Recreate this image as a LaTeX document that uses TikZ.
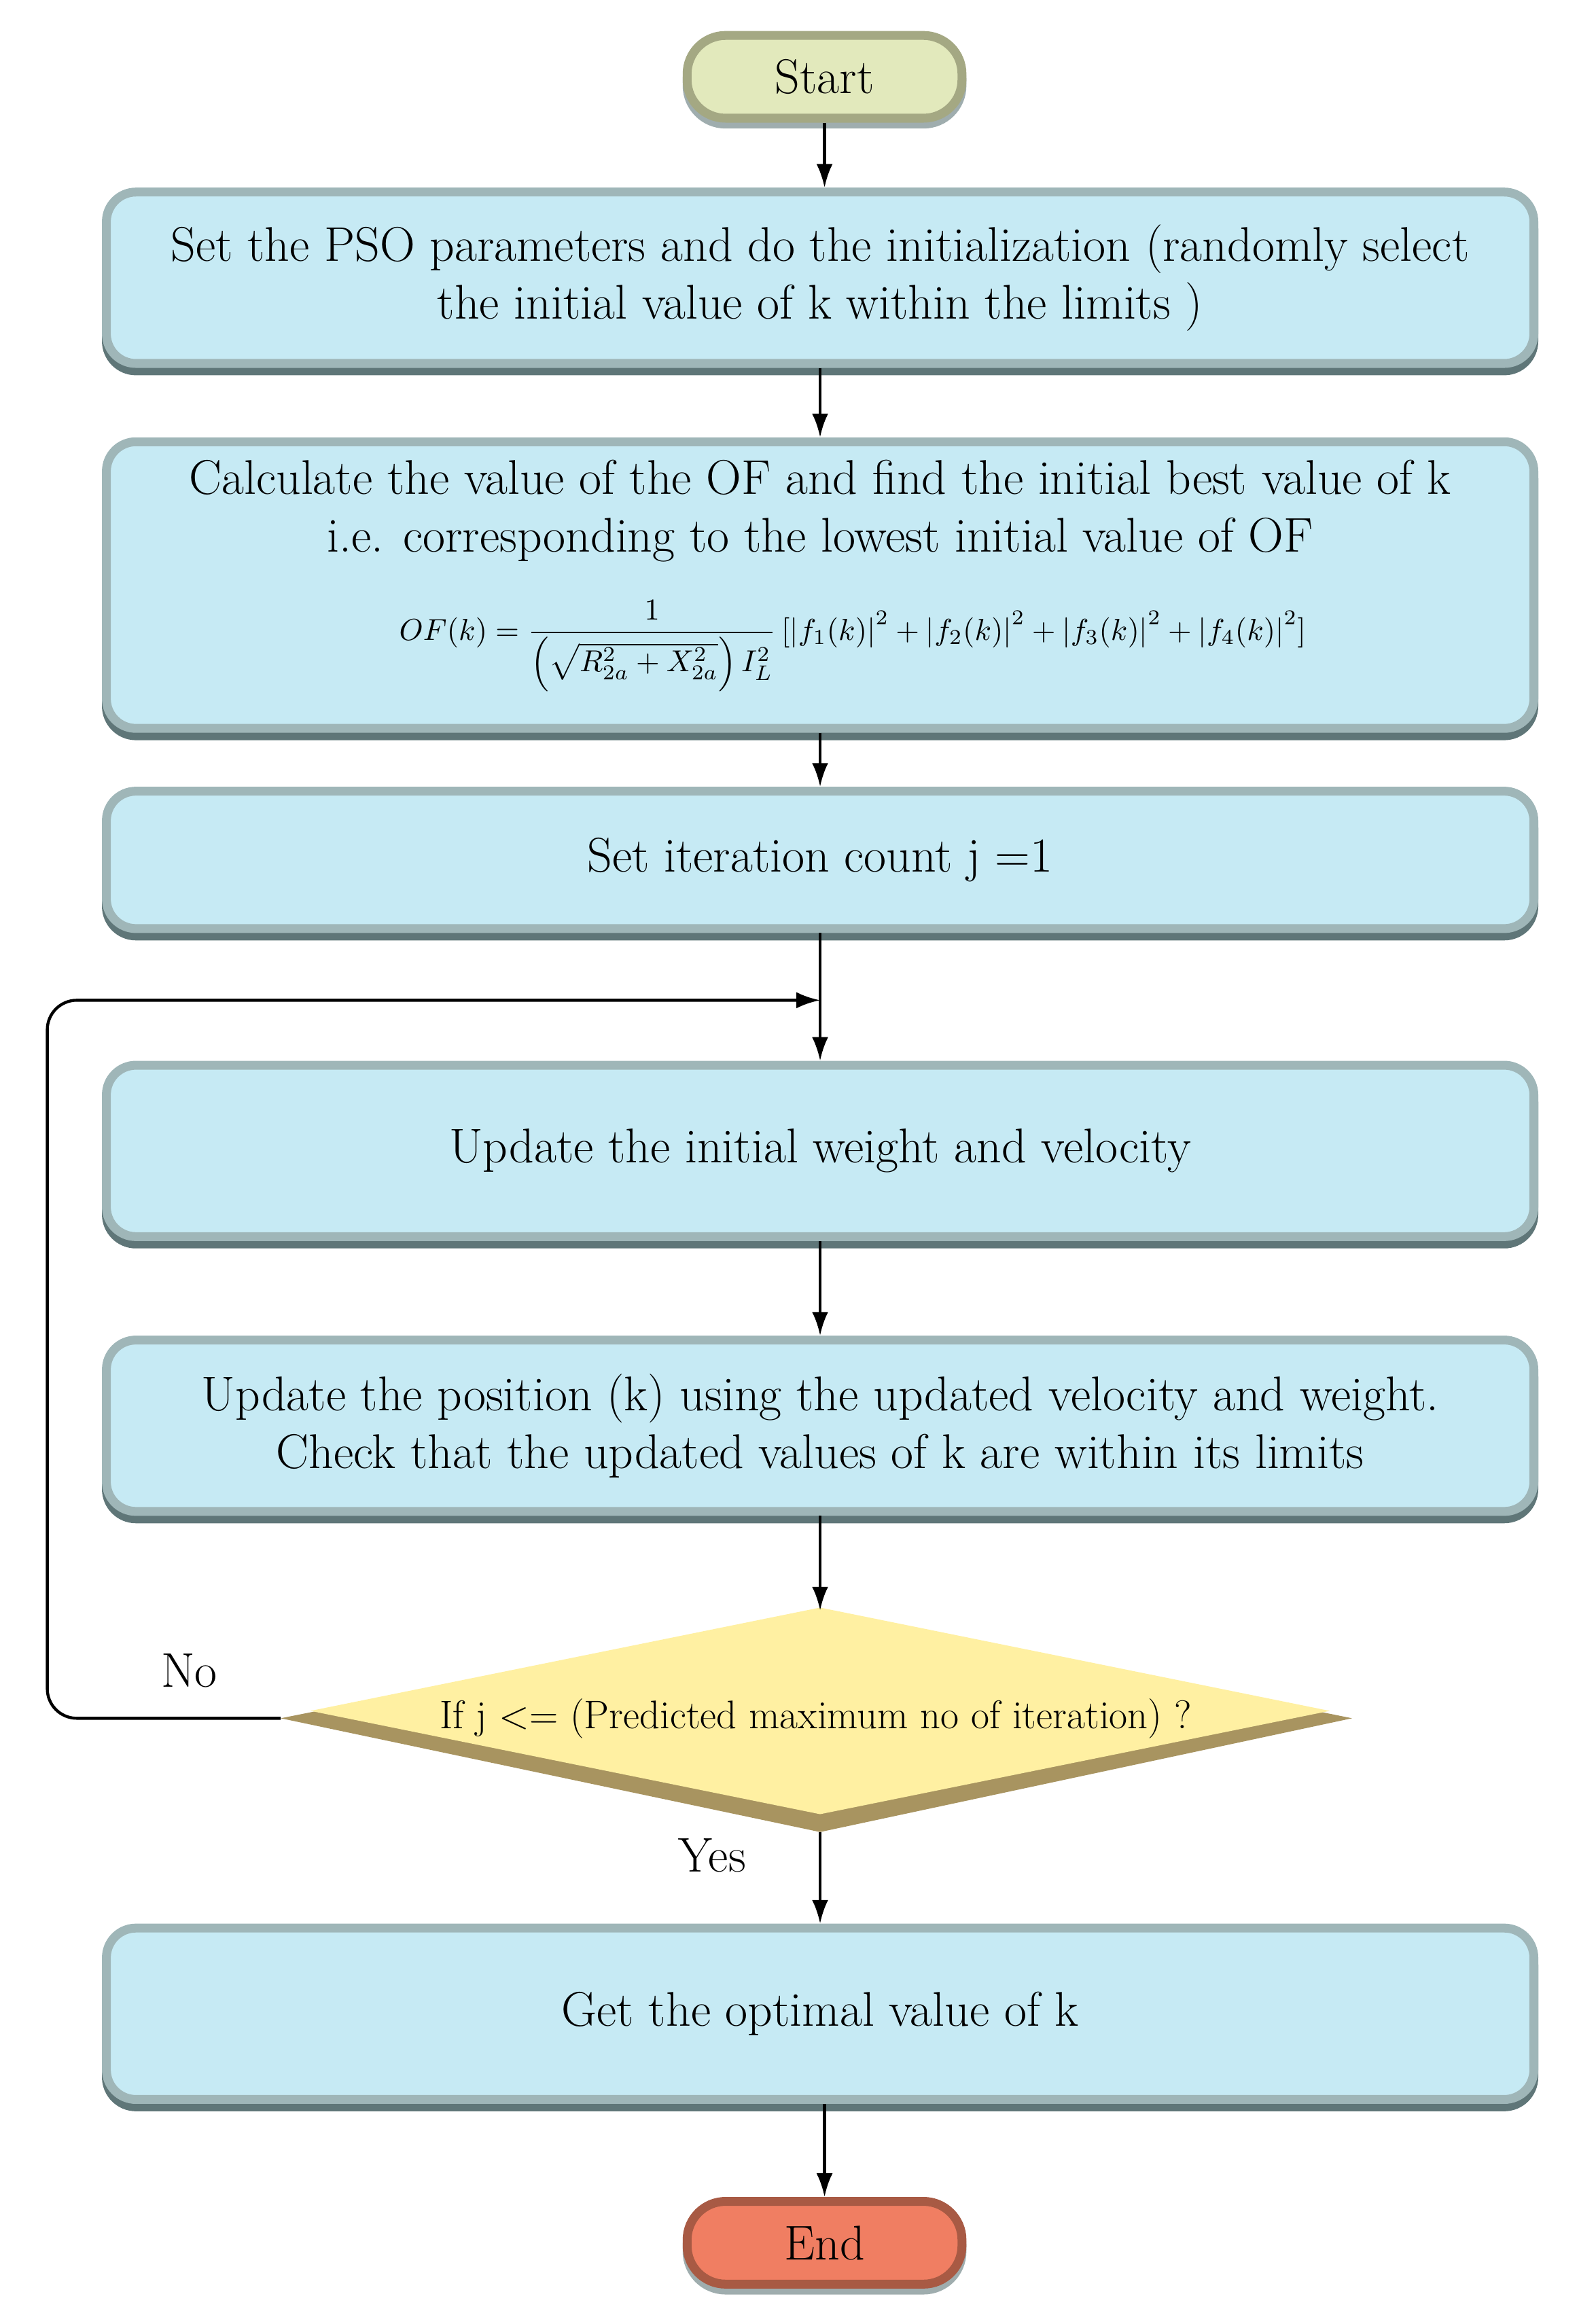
\documentclass[tikz,border=0pt]{standalone}
\usepackage{amsmath}
\usetikzlibrary{shapes.geometric,arrows.meta,calc}
\definecolor{boxfill}{HTML}{C6EAF4}
\definecolor{boxedge}{HTML}{9FB6B8}
\definecolor{boxdark}{HTML}{5F7678}
\definecolor{startfill}{HTML}{E2E9BC}
\definecolor{startedge}{HTML}{A4A883}
\definecolor{endfill}{HTML}{F07E62}
\definecolor{endedge}{HTML}{A85A44}
\definecolor{diafill}{HTML}{FFF0A2}
\definecolor{diadark}{HTML}{A89460}
\begin{document}
\begin{tikzpicture}[x=1pt,y=-1pt,
  every node/.style={font=\fontsize{33}{39}\selectfont},
  box/.style={rounded corners=20pt, fill=boxfill, draw=boxedge, line width=6pt,
    minimum width=966pt, align=center, inner sep=0pt,
    preaction={draw=boxdark, line width=6pt, transform canvas={yshift=-5pt}}},
  term/.style={rounded corners=26pt, line width=6pt, minimum width=186pt, minimum height=56pt, inner sep=0pt,
    preaction={draw=boxdark!60, line width=6pt, transform canvas={yshift=-4pt}}},
  arr/.style={-{Latex[length=16pt,width=11pt]}, line width=2pt}]
\useasboundingbox (0,0) rectangle (1080,1573);
\node[term, fill=startfill, draw=startedge] (start) at (558,52) {Start};
\node[box, minimum height=116pt] (b1) at (555,188) {Set the PSO parameters and do the initialization (randomly select\\the initial value of k within the limits )};
\node[box, minimum height=194pt] (b2) at (555,396) {};
\node[align=center] (t2) at (555,346) {Calculate the value of the OF and find the initial best value of k\\i.e. corresponding to the lowest initial value of OF};
\node[font=\normalsize, scale=2.05, inner sep=0pt] (f2) at (577,437) {$OF(k)=\dfrac{1}{\left(\sqrt{R_{2a}^2+X_{2a}^2}\right)I_L^2}\,[\left|f_1(k)\right|^2+\left|f_2(k)\right|^2+\left|f_3(k)\right|^2+\left|f_4(k)\right|^2]$};
\node[box, minimum height=93pt] (b3) at (555,582) {Set iteration count j =1};
\node[box, minimum height=116pt] (b4) at (555,779) {Update the initial weight and velocity};
\node[box, minimum height=116pt] (b5) at (555,965) {Update the position (k) using the updated velocity and weight.\\Check that the updated values of k are within its limits};
\fill[diadark] (190,1163) -- (555,1090) -- (915,1163) -- (555,1240) -- cycle;
\node[diamond, fill=diafill, minimum width=690pt, minimum height=140pt, aspect=4.8, inner sep=0pt] (d) at (555,1158) {};
\node[font=\fontsize{27}{30}\selectfont] (dt) at (552,1163) {If j <= (Predicted maximum no of iteration) ?};
\coordinate (dw) at (190,1163);
\coordinate (dn) at (555,1090);
\coordinate (ds) at (555,1240);
\node[box, minimum height=116pt] (b6) at (555,1363) {Get the optimal value of k};
\node[term, fill=endfill, draw=endedge] (end) at (558,1518) {End};
\coordinate (m) at (555,677);
\draw[arr] (start.south) -- (start.south |- b1.north);
\draw[arr] (b1.south) -- (b2.north);
\draw[arr] (b2.south) -- (b3.north);
\draw[arr] (b3.south) -- (b4.north);
\draw[arr] (b4.south) -- (b5.north);
\draw[arr] (b5.south) -- (dn);
\draw[arr] (ds) -- (b6.north);
\draw[arr] (b6.south -| end.north) -- (end.north);
\draw[arr, rounded corners=20pt] (dw) -- (32,1163) -- (32,677) -- (m);
\node (no) at (128,1131) {No};
\node (yes) at (482,1256) {Yes};
\end{tikzpicture}
\end{document}
